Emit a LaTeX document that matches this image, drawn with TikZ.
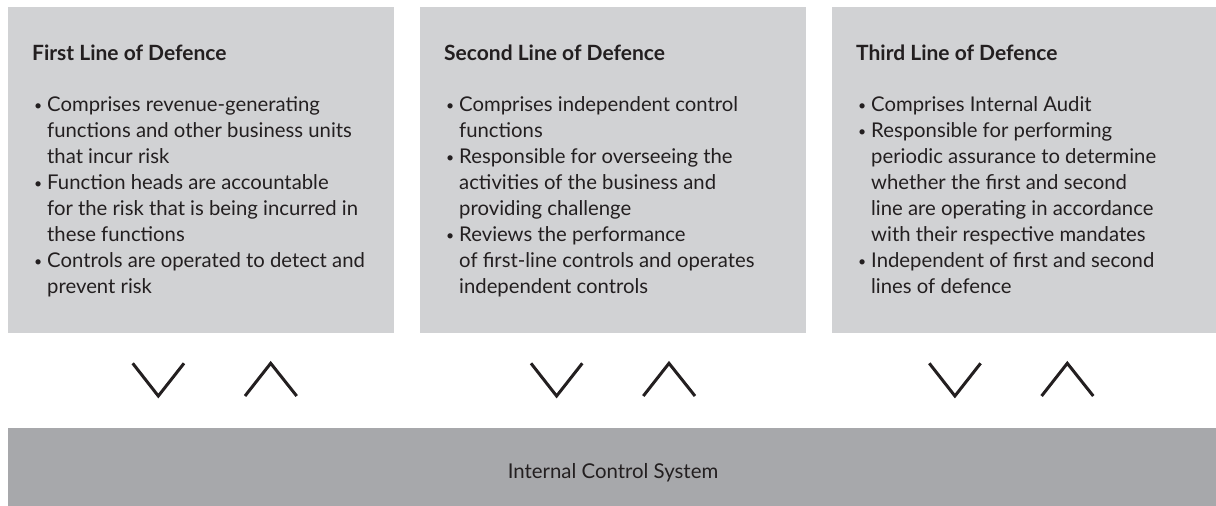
\documentclass[tikz,border=0pt]{standalone}
\usepackage{fontspec}
\setmainfont{Lato}
\usetikzlibrary{positioning}
\definecolor{boxgray}{RGB}{209,210,212}
\definecolor{bargray}{RGB}{167,168,171}
\definecolor{inkdark}{RGB}{35,31,32}
\tikzstyle{panel} = [fill=boxgray, draw=none, inner sep=0pt, minimum width=386pt, minimum height=326pt, anchor=north west]
\tikzstyle{heading} = [font=\bfseries\fontsize{21}{24}\selectfont, text=inkdark, anchor=base west, inner sep=0pt]
\tikzstyle{bullets} = [font=\fontsize{20.3}{26}\selectfont, text=inkdark, align=left, anchor=base west, inner sep=0pt]
\tikzstyle{chevron} = [line width=3pt, color=inkdark]
\newcommand{\itm}{\makebox[13pt][l]{\raisebox{1.5pt}{\fontsize{14}{14}\selectfont•}}}
\newcommand{\ind}{\hspace*{13pt}}

\begin{document}
\begin{tikzpicture}[x=1pt, y=-1pt]
\useasboundingbox (0,0) rectangle (1216,506);

% The three lines of defence
\node[panel] (first) at (8,7) {};
\node[panel] (second) at (420,7) {};
\node[panel, minimum width=384pt] (third) at (832,7) {};

% (base of a bullet list is its last line: 7 lines of 26pt below the first)
\node[heading] (firsthead) at ([xshift=24pt, yshift=-53.7pt]first.north west) {First Line of Defence};
\node[bullets] (firstbody) at ([xshift=26pt, yshift=-286.7pt]first.north west) {%
\itm Comprises revenue-generating\\
\ind functions and other business units\\
\ind that incur risk\\
\itm Function heads are accountable\\
\ind for the risk that is being incurred in\\
\ind these functions\\
\itm Controls are operated to detect and\\
\ind prevent risk};

\node[heading] (secondhead) at ([xshift=24pt, yshift=-53.7pt]second.north west) {Second Line of Defence};
\node[bullets] (secondbody) at ([xshift=26pt, yshift=-286.7pt]second.north west) {%
\itm Comprises independent control\\
\ind functions\\
\itm Responsible for overseeing the\\
\ind activities of the business and\\
\ind providing challenge\\
\itm Reviews the performance\\
\ind of first-line controls and operates\\
\ind independent controls};

\node[heading] (thirdhead) at ([xshift=24pt, yshift=-53.7pt]third.north west) {Third Line of Defence};
\node[bullets] (thirdbody) at ([xshift=26pt, yshift=-286.7pt]third.north west) {%
\itm Comprises Internal Audit\\
\itm Responsible for performing\\
\ind periodic assurance to determine\\
\ind whether the first and second\\
\ind line are operating in accordance\\
\ind with their respective mandates\\
\itm Independent of first and second\\
\ind lines of defence};

% Down and up chevrons under each line
\foreach \cx in {0, 398.3, 796.6} {
  \draw[chevron] (132.7+\cx,363.3) -- (158.3+\cx,396) -- (184+\cx,363.3);
  \draw[chevron] (245+\cx,396) -- (270.7+\cx,363.3) -- (296.7+\cx,396);
}

% Internal control system bar
\node[fill=bargray, inner sep=0pt, minimum width=1208pt, minimum height=78pt, anchor=north west] (system) at (8,428) {};
\node[font=\fontsize{20.4}{24}\selectfont, text=inkdark, anchor=base, inner sep=0pt] (systemlabel) at (613,478.3) {Internal Control System};
\end{tikzpicture}
\end{document}
